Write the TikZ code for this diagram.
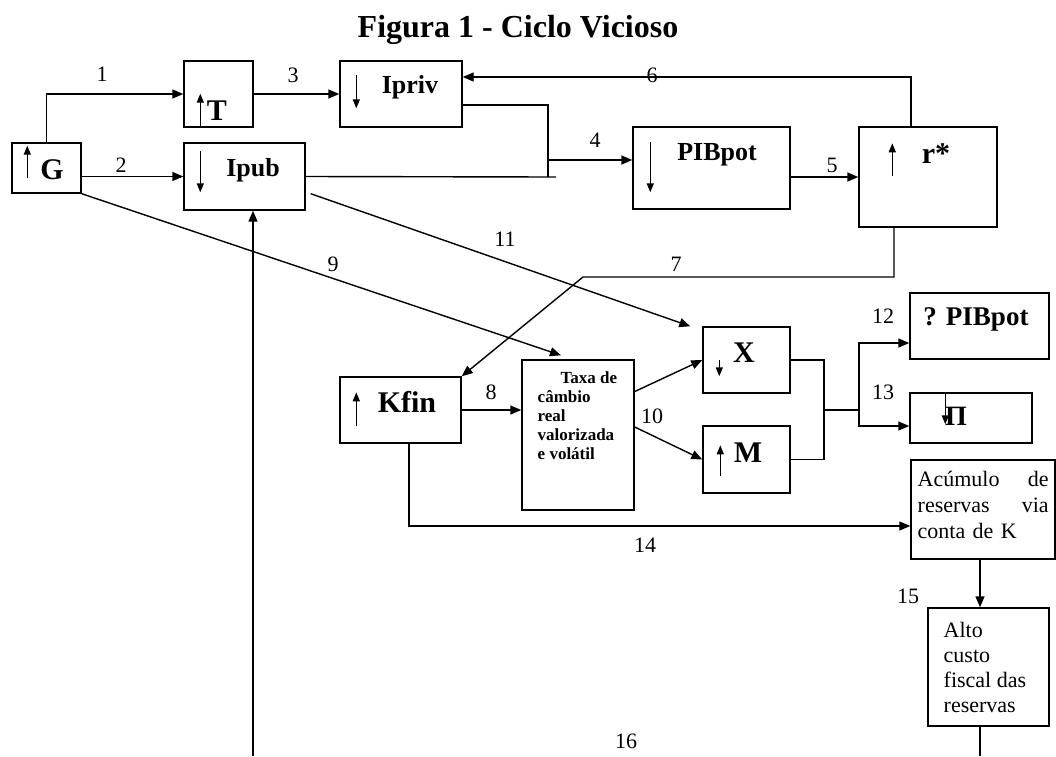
\documentclass[tikz,border=0pt]{standalone}
\usepackage{fontspec}
\setmainfont{Liberation Serif}
\usetikzlibrary{arrows.meta}
\usetikzlibrary{fit}
\usetikzlibrary{calc}

\begin{document}
\begin{tikzpicture}[x=0.5pt, y=-0.5pt, line width=0.7pt,
    box/.style={draw, inner sep=0pt},
    arr/.style={-{Triangle[length=5.5pt, width=4.5pt]}},
    inarr/.style={-{Triangle[length=4.5pt, width=3.5pt]}},
    num/.style={anchor=base, inner sep=0pt, font=\fontsize{11}{13}\selectfont},
    big/.style={anchor=base, inner sep=0pt, font=\fontsize{15}{17}\selectfont\bfseries},
    mid/.style={anchor=base, inner sep=0pt, font=\fontsize{13}{15}\selectfont\bfseries},
    para/.style={anchor=north west, inner sep=0pt, align=left}]

  \useasboundingbox (0,0) rectangle (1056,756);

  % Title
  \node[anchor=base, font=\fontsize{16}{18}\selectfont\bfseries] (title) at (518,37) {Figura 1 - Ciclo Vicioso};

  % Boxes
  \node[box, fit={(12,143) (81,193)}] (G) {};
  \node[box, fit={(184,61) (253,127)}] (T) {};
  \node[box, fit={(340,61) (462,127)}] (Ipriv) {};
  \node[box, fit={(184,143) (305,210)}] (Ipub) {};
  \node[box, fit={(633,127) (790,209)}] (PIBpot) {};
  \node[box, fit={(859,127) (997,227)}] (rs) {};
  \node[box, fit={(340,377) (461,443)}] (Kfin) {};
  \node[box, fit={(522,360) (634,510)}] (Taxa) {};
  \node[box, fit={(703,327) (790,393)}] (X) {};
  \node[box, fit={(703,426) (790,493)}] (M) {};
  \node[box, fit={(910,293) (1049,359)}] (PIB2) {};
  \node[box, fit={(910,393) (1032,443)}] (Pi) {};
  \node[box, fit={(911,460) (1055,559)}] (Acum) {};
  \node[box, fit={(928,608) (1049,726)}] (Alto) {};

  % Texts in the boxes
  \node[big] (Gt) at (52,179) {G};
  \node[big] (Tt) at (217,120) {T};
  \node[mid] (Iprivt) at (410,93) {Ipriv};
  \node[mid] (Ipubt) at (253,176) {Ipub};
  \node[mid] (PIBpott) at (717,160) {PIBpot};
  \node[big] (rst) at (936,163) {r*};
  \node[big] (Kfint) at (407,412) {Kfin};
  \node[big] (Xt) at (744,362) {X};
  \node[big] (Mt) at (748,462) {M};
  \node[mid, font=\fontsize{13.5}{15}\selectfont\bfseries] (PIB2t) at (976,325) {? PIBpot};
  \node[big, font=\fontsize{14}{16}\selectfont\bfseries] (Pit) at (956,425) {Π};
  \node[para, font=\fontsize{8.5}{9.5}\selectfont\bfseries] (Taxat) at (537,371)
    {\hspace*{11.5pt}Taxa de\\câmbio\\real\\valorizada\\e volátil};
  \node[para, text width=65.5pt, font=\fontsize{11}{13}\selectfont] (Acumt) at (917,470)
    {Acúmulo\hfill de\\reservas\hfill via\\conta de K};
  \node[para, font=\fontsize{11}{12.5}\selectfont] (Altot) at (943,622)
    {Alto\\custo\\fiscal das\\reservas};

  % Arrows inside the boxes
  \draw[inarr] ([shift={(16,-16)}]G.south west) -- ++(0,-32);
  \draw[inarr] ([shift={(17,0)}]T.south west) -- ++(0,-34);
  \draw[inarr] ([shift={(17,15)}]Ipriv.north west) -- ++(0,33);
  \draw[inarr] ([shift={(17,9)}]Ipub.north west) -- ++(0,41);
  \draw[inarr] ([shift={(18,16)}]PIBpot.north west) -- ++(0,50);
  \draw[inarr] ([shift={(34,50)}]rs.north west) -- ++(0,-33);
  \draw[inarr] ([shift={(17,50)}]Kfin.north west) -- ++(0,-34);
  \draw[inarr] ([shift={(17,34)}]X.north west) -- ++(0,16);
  \draw[inarr] ([shift={(18,51)}]M.north west) -- ++(0,-31);
  \draw[inarr] ([shift={(36,0)}]Pi.north west) -- ++(0,32);

  % Connectors
  \coordinate (b4t) at (548,105);
  \coordinate (b4b) at (548,177);
  \coordinate (b4) at (548,160);
  \coordinate (b4e) at (556,177);
  \coordinate (c6) at (911,77);
  \coordinate (c7r) at (894,277);
  \coordinate (c7l) at (583,277);
  \coordinate (j12) at (824,410);
  \coordinate (s12) at (859,410);
  \coordinate (s12t) at (859,343);
  \coordinate (s13) at (859,426);
  \coordinate (c14) at (409,526);
  \coordinate (c15) at (980,0);
  \coordinate (b16l) at (253,756);
  \coordinate (b16r) at (980,756);

  \draw[arr] (G.north) |- (T.west);
  \draw[arr] (G.east |- Ipub.west) -- (Ipub.west);
  \draw[arr] (T.east) -- (Ipriv.west);
  \draw (Ipriv.east |- b4t) -- (b4t) -- (b4b);
  \draw (Ipub.east) -- (b4e);
  \draw[arr] (b4) -- (b4 -| PIBpot.west);
  \draw[arr] (rs.west -| PIBpot.east) -- (rs.west);
  \draw[arr] (c6 |- rs.north) -- (c6) -- (c6 -| Ipriv.east);
  \draw[arr] (c7r |- rs.south) -- (c7r) -- (c7l) -- (Kfin.north east);
  \draw[arr] (Kfin.east) -- (Kfin.east -| Taxa.west);
  \draw[arr] (G.south east) -- ($(Taxa.north west)!0.35!(Taxa.north east)+(0,-4)$);
  \draw[arr] ($(Taxa.north east)!0.213!(Taxa.south east)$) -- (X.west);
  \draw[arr] ($(Taxa.north east)!0.447!(Taxa.south east)$) -- (M.west);
  \draw[arr] ($(Ipub.south east)+(5,-17)$) -- ($(X.north west)+(-12,0)$);
  \draw (X.east) -| (j12) |- (M.east);
  \draw (j12) -- (s12);
  \draw[arr] (s12) |- (s12t -| PIB2.west);
  \draw[arr] (s12) |- (s13 -| Pi.west);
  \draw[arr] (c14 |- Kfin.south) -- (c14) -- (c14 -| Acum.west);
  \draw[arr] (Acum.south -| c15) -- (Alto.north -| c15);
  \draw (Alto.south -| b16r) -- (b16r);
  \draw[arr] (b16l) -- (b16l |- Ipub.south);

  % Connector numbers
  \node[num] (n1) at (102,81) {1};
  \node[num] (n2) at (121,172) {2};
  \node[num] (n3) at (293,82) {3};
  \node[num] (n4) at (595,147) {4};
  \node[num] (n5) at (832,172) {5};
  \node[num] (n6) at (652,82) {6};
  \node[num] (n7) at (676,271) {7};
  \node[num] (n8) at (491,399) {8};
  \node[num] (n9) at (333,271) {9};
  \node[num] (n10) at (652,423) {10};
  \node[num] (n11) at (505,246) {11};
  \node[num] (n12) at (883,323) {12};
  \node[num] (n13) at (883,399) {13};
  \node[num] (n14) at (645,552) {14};
  \node[num] (n15) at (908,603) {15};
  \node[num] (n16) at (626,748) {16};

\end{tikzpicture}
\end{document}
